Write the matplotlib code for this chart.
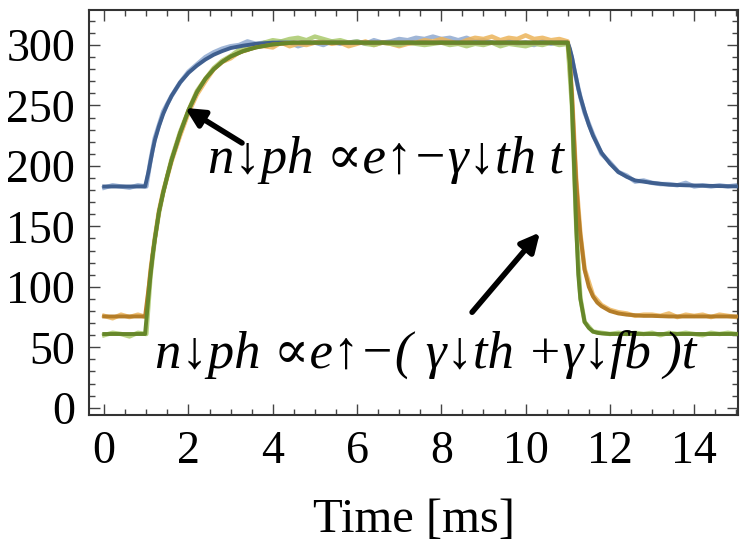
import numpy as np
import matplotlib.pyplot as plt

# photon number traces, time in ms
t_meas = [0.0, 0.2, 0.4, 0.6, 0.8, 1.0, 1.1, 1.2, 1.3, 1.4,
          1.6, 1.8, 2.0, 2.2, 2.4, 2.6, 2.8, 3.0, 3.2, 3.4,
          3.6, 3.8, 4.0, 4.2, 4.4, 4.6, 4.8, 5.0, 5.2, 5.4,
          5.6, 5.8, 6.0, 6.2, 6.4, 6.6, 6.8, 7.0, 7.2, 7.4,
          7.6, 7.8, 8.0, 8.2, 8.4, 8.6, 8.8, 9.0, 9.2, 9.4,
          9.6, 9.8, 10.0, 10.2, 10.4, 10.6, 10.8, 11.0, 11.1, 11.2,
          11.3, 11.4, 11.6, 11.8, 12.0, 12.2, 12.4, 12.6, 12.8, 13.0,
          13.2, 13.4, 13.6, 13.8, 14.0, 14.2, 14.4, 14.6, 14.8, 15.0]

blue_meas = [182, 184, 183, 182, 184, 183, 205, 223, 234, 245,
             258, 269, 278, 284, 290, 294, 297, 299, 300, 303,
             301, 302, 300, 303, 302, 299, 301, 302, 300, 303,
             301, 302, 303, 301, 304, 302, 303, 305, 304, 306,
             305, 307, 305, 306, 304, 306, 303, 304, 302, 301,
             303, 301, 302, 300, 303, 301, 302, 301, 289, 272,
             257, 244, 226, 210, 203, 195, 192, 187, 188, 186,
             185, 185, 184, 186, 183, 184, 183, 184, 183, 184]

orange_meas = [76, 74, 77, 75, 77, 75, 114, 140, 163, 179,
               204, 225, 244, 259, 270, 280, 286, 289, 294, 296,
               300, 299, 298, 302, 299, 301, 300, 302, 303, 301,
               302, 299, 301, 303, 300, 302, 301, 299, 301, 302,
               304, 303, 305, 303, 301, 304, 306, 305, 307, 304,
               306, 305, 308, 305, 306, 304, 305, 303, 259, 189,
               144, 115, 93, 85, 81, 79, 78, 76, 77, 77,
               76, 78, 75, 77, 76, 77, 75, 77, 76, 75]

green_meas = [60, 62, 61, 59, 62, 61, 109, 139, 161, 178,
              206, 228, 246, 262, 272, 281, 287, 291, 296, 298,
              299, 302, 304, 303, 305, 306, 304, 307, 305, 303,
              304, 302, 303, 301, 300, 302, 301, 300, 302, 301,
              300, 301, 302, 300, 301, 299, 301, 300, 302, 299,
              301, 300, 299, 301, 300, 302, 300, 301, 249, 151,
              91, 71, 63, 62, 61, 62, 61, 62, 61, 62,
              60, 62, 61, 62, 61, 60, 62, 61, 62, 61]

# fitted curves
t_fit = [0.0, 0.97, 1.05, 1.1, 1.15, 1.2, 1.3, 1.4, 1.5, 1.6,
         1.8, 2.0, 2.2, 2.4, 2.6, 2.8, 3.0, 3.3, 3.6, 4.0,
         4.5, 11.0, 11.05, 11.1, 11.15, 11.2, 11.25, 11.3, 11.4, 11.5,
         11.6, 11.7, 11.8, 12.0, 12.2, 12.4, 12.6, 12.8, 13.0, 13.4,
         13.8, 14.4, 15.1]

blue_fit = [183, 183, 195, 204, 213, 221, 233, 243, 251, 258,
            269, 277, 283, 288, 292, 295, 297.5, 299.5, 301, 302,
            302, 302, 297, 290, 281, 273, 264, 257, 245, 234,
            225, 218, 211, 202, 195, 191, 188, 187, 186, 184.5,
            184, 183.5, 183]

orange_fit = [75.5, 75.5, 98, 113, 127, 139, 162, 178, 192, 205,
              227, 246, 261, 272, 280, 286, 290.5, 295, 298, 300.5,
              302, 302, 288, 258, 222, 188, 163, 143, 114, 100,
              92, 87, 84, 80, 78, 77, 76.5, 76, 76, 75.5,
              75.5, 75.5, 75.5]

green_fit = [61, 61, 92, 110, 126, 139, 162, 178, 192, 205,
             227, 246, 261, 272, 280, 286, 290.5, 295, 298, 300.5,
             302, 302, 285, 250, 200, 150, 110, 90, 71, 66,
             63, 62, 61.5, 61, 61, 61, 61, 61, 61, 61,
             61, 61, 61]

x_ticks = [0, 2, 4, 6, 8, 10, 12, 14]
y_ticks = [0, 50, 100, 150, 200, 250, 300]

serif = ['Liberation Serif', 'DejaVu Serif']
plt.rcParams['font.family'] = serif

fig = plt.figure(figsize=(7.4, 5.51), dpi=100)
ax = fig.add_axes([0.1203, 0.2468, 0.8770, 0.7351])

# raw data underneath, fits on top
ax.plot(t_meas, blue_meas, color='#8fa9d0', lw=3.2, alpha=0.85, zorder=2)
ax.plot(t_meas, orange_meas, color='#ecb45a', lw=3.2, alpha=0.85, zorder=2)
ax.plot(t_meas, green_meas, color='#a9c96c', lw=3.2, alpha=0.85, zorder=2)

ax.plot(t_fit, blue_fit, color='#3f5f8f', lw=2.8, zorder=3)
ax.plot(t_fit, orange_fit, color='#b47d28', lw=2.8, zorder=3)
ax.plot(t_fit, green_fit, color='#66872a', lw=2.8, zorder=4)

ax.set_xlim(-0.36, 15.04)
ax.set_ylim(-6, 329)
ax.set_xticks(x_ticks)
ax.set_yticks(y_ticks)
ax.set_xticks(np.arange(-0.0, 15.01, 0.5), minor=True)
ax.set_yticks(np.arange(0, 321, 10), minor=True)
ax.tick_params(which='both', direction='in', top=True, right=True,
               color='#444444', width=1.0, labelsize=33)
ax.tick_params(which='major', length=8)
ax.tick_params(which='minor', length=4)
ax.tick_params(axis='y', pad=10)
ax.tick_params(axis='x', pad=11)
for side in ax.spines.values():
    side.set_color('#333333')
    side.set_linewidth(1.5)

ax.set_xlabel('Time [ms]', fontsize=35, labelpad=18)

# decay-law labels with arrows
ax.text(2.47, 205, 'n\u2193ph \u221de\u2191\u2212\u03b3\u2193th t',
        fontsize=38, style='italic', va='center', ha='left', family=serif, zorder=6)
ax.text(1.21, 44, 'n\u2193ph \u221de\u2191\u2212( \u03b3\u2193th +\u03b3\u2193fb )t',
        fontsize=38, style='italic', va='center', ha='left', family=serif, zorder=6)
ax.annotate('', xy=(1.92, 248), xytext=(3.27, 219),
            arrowprops=dict(arrowstyle='-|>', lw=4, color='black',
                            mutation_scale=28, shrinkA=0, shrinkB=0), zorder=6)
ax.annotate('', xy=(10.34, 145), xytext=(8.73, 79),
            arrowprops=dict(arrowstyle='-|>', lw=4, color='black',
                            mutation_scale=28, shrinkA=0, shrinkB=0), zorder=6)

fig.savefig('out.png', dpi=100)
